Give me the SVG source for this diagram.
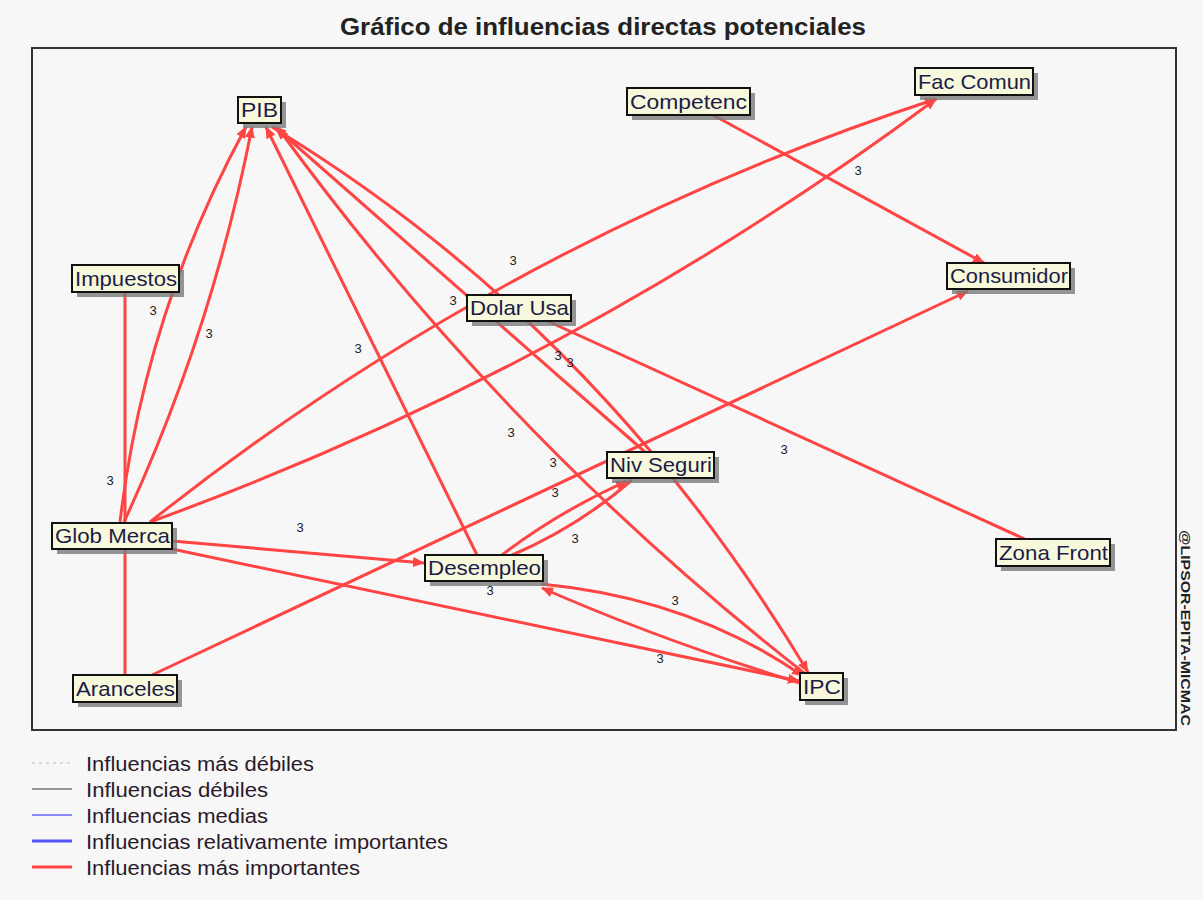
<svg xmlns="http://www.w3.org/2000/svg" width="1203" height="900" viewBox="0 0 1203 900">
  <defs>
    <marker id="arr" viewBox="0 0 12 10" refX="11" refY="5" markerWidth="12" markerHeight="10" markerUnits="userSpaceOnUse" orient="auto">
      <path d="M0,0 L12,5 L0,10 Z" fill="#ff4444"/>
    </marker>
    <style>
      .bg { fill: #f7f7f7; }
      .frame { fill: none; stroke: #333; stroke-width: 2; }
      .title { font-family: "Liberation Sans", Arial, sans-serif; font-size: 24px; font-weight: bold; fill: #222; }
      .edge { fill: none; stroke: #ff4444; stroke-width: 3; }
      .shadow { fill: #7a7a7a; opacity: 0.8; }
      .box { fill: #f8f8dc; stroke: #111; stroke-width: 2; }
      .lbl { font-family: "Liberation Sans", Arial, sans-serif; font-size: 21px; fill: #1c1c48; }
      .val { font-family: "Liberation Sans", Arial, sans-serif; font-size: 13px; fill: #222; }
      .leg { font-family: "Liberation Sans", Arial, sans-serif; font-size: 20px; fill: #2a1a2a; }
      .copy { font-family: "Liberation Sans", Arial, sans-serif; font-size: 13px; font-weight: bold; fill: #222; }
    </style>
  </defs>

  <rect class="bg" x="0" y="0" width="1203" height="900"/>
  <text class="title" x="603" y="35" text-anchor="middle" textLength="526" lengthAdjust="spacingAndGlyphs">Gráfico de influencias directas potenciales</text>
  <rect class="frame" x="32" y="48" width="1144" height="682"/>
  <text class="copy" transform="translate(1181,530) rotate(90)" textLength="196" lengthAdjust="spacingAndGlyphs">@LIPSOR-EPITA-MICMAC</text>

  <!-- influence connectors -->
  <g id="connectors">
    <path class="edge" d="M713,115 L984,263" marker-end="url(#arr)"/>
    <path class="edge" d="M152,675 L968,291" marker-end="url(#arr)"/>
    <path class="edge" d="M150,522 Q505,240 936,99" marker-end="url(#arr)"/>
    <path class="edge" d="M150,522 Q575,368 936,99" marker-end="url(#arr)"/>
    <path class="edge" d="M120,522 Q145,312 246,127" marker-end="url(#arr)"/>
    <path class="edge" d="M124,522 Q212,332 252,127" marker-end="url(#arr)"/>
    <path class="edge" d="M125,278 L125,688"/>
    <path class="edge" d="M477,555 L266,127" marker-end="url(#arr)"/>
    <path class="edge" d="M645,452 L275,127" marker-end="url(#arr)"/>
    <path class="edge" d="M272,127 Q600,326 808,672" marker-end="url(#arr)"/>
    <path class="edge" d="M808,676 Q505,440 278,128" marker-end="url(#arr)"/>
    <path class="edge" d="M519,308 L1053,552"/>
    <path class="edge" d="M172,541 L424,563" marker-end="url(#arr)"/>
    <path class="edge" d="M172,549 L799,681" marker-end="url(#arr)"/>
    <path class="edge" d="M541,584 Q690,598 803,676" marker-end="url(#arr)"/>
    <path class="edge" d="M803,684 Q660,640 542,588" marker-end="url(#arr)"/>
    <path class="edge" d="M502,555 Q558,512 627,481" marker-end="url(#arr)"/>
    <path class="edge" d="M632,480 Q578,527 510,556"/>
  </g>

  <!-- influence values -->
  <g id="values">
    <text class="val" x="513" y="265" text-anchor="middle">3</text>
    <text class="val" x="858" y="175" text-anchor="middle">3</text>
    <text class="val" x="153" y="315" text-anchor="middle">3</text>
    <text class="val" x="209" y="338" text-anchor="middle">3</text>
    <text class="val" x="453" y="305" text-anchor="middle">3</text>
    <text class="val" x="358" y="353" text-anchor="middle">3</text>
    <text class="val" x="558" y="360" text-anchor="middle">3</text>
    <text class="val" x="570" y="367" text-anchor="middle">3</text>
    <text class="val" x="511" y="437" text-anchor="middle">3</text>
    <text class="val" x="553" y="467" text-anchor="middle">3</text>
    <text class="val" x="555" y="497" text-anchor="middle">3</text>
    <text class="val" x="575" y="543" text-anchor="middle">3</text>
    <text class="val" x="784" y="454" text-anchor="middle">3</text>
    <text class="val" x="110" y="485" text-anchor="middle">3</text>
    <text class="val" x="300" y="532" text-anchor="middle">3</text>
    <text class="val" x="490" y="595" text-anchor="middle">3</text>
    <text class="val" x="675" y="605" text-anchor="middle">3</text>
    <text class="val" x="660" y="663" text-anchor="middle">3</text>
  </g>

  <!-- variables -->
  <g id="n-pib"><rect class="shadow" x="243" y="102" width="43" height="26"/><rect class="box" x="238" y="97" width="43" height="26"/><text class="lbl" x="241" y="117" textLength="37" lengthAdjust="spacingAndGlyphs">PIB</text></g>
  <g id="n-competenc"><rect class="shadow" x="632" y="93" width="123" height="27"/><rect class="box" x="627" y="88" width="123" height="27"/><text class="lbl" x="630" y="109" textLength="117" lengthAdjust="spacingAndGlyphs">Competenc</text></g>
  <g id="n-faccomun"><rect class="shadow" x="920" y="73" width="118" height="27"/><rect class="box" x="915" y="68" width="118" height="27"/><text class="lbl" x="918" y="89" textLength="113" lengthAdjust="spacingAndGlyphs">Fac Comun</text></g>
  <g id="n-consumidor"><rect class="shadow" x="952" y="268" width="123" height="26"/><rect class="box" x="947" y="263" width="123" height="26"/><text class="lbl" x="950" y="283" textLength="118" lengthAdjust="spacingAndGlyphs">Consumidor</text></g>
  <g id="n-impuestos"><rect class="shadow" x="77" y="270" width="107" height="27"/><rect class="box" x="72" y="265" width="107" height="27"/><text class="lbl" x="75" y="286" textLength="102" lengthAdjust="spacingAndGlyphs">Impuestos</text></g>
  <g id="n-dolarusa"><rect class="shadow" x="472" y="300" width="104" height="26"/><rect class="box" x="467" y="295" width="104" height="26"/><text class="lbl" x="470" y="315" textLength="99" lengthAdjust="spacingAndGlyphs">Dolar Usa</text></g>
  <g id="n-nivseguri"><rect class="shadow" x="612" y="457" width="107" height="26"/><rect class="box" x="607" y="452" width="107" height="26"/><text class="lbl" x="610" y="472" textLength="102" lengthAdjust="spacingAndGlyphs">Niv Seguri</text></g>
  <g id="n-globmerca"><rect class="shadow" x="57" y="528" width="120" height="26"/><rect class="box" x="52" y="523" width="120" height="26"/><text class="lbl" x="55" y="543" textLength="115" lengthAdjust="spacingAndGlyphs">Glob Merca</text></g>
  <g id="n-desempleo"><rect class="shadow" x="430" y="560" width="118" height="26"/><rect class="box" x="425" y="555" width="118" height="26"/><text class="lbl" x="428" y="575" textLength="113" lengthAdjust="spacingAndGlyphs">Desempleo</text></g>
  <g id="n-aranceles"><rect class="shadow" x="78" y="680" width="104" height="27"/><rect class="box" x="73" y="675" width="104" height="27"/><text class="lbl" x="76" y="696" textLength="99" lengthAdjust="spacingAndGlyphs">Aranceles</text></g>
  <g id="n-zonafront"><rect class="shadow" x="1001" y="544" width="114" height="27"/><rect class="box" x="996" y="539" width="114" height="27"/><text class="lbl" x="999" y="560" textLength="109" lengthAdjust="spacingAndGlyphs">Zona Front</text></g>
  <g id="n-ipc"><rect class="shadow" x="805" y="678" width="43" height="27"/><rect class="box" x="800" y="673" width="43" height="27"/><text class="lbl" x="803" y="694" textLength="38" lengthAdjust="spacingAndGlyphs">IPC</text></g>

  <!-- legend -->
  <g id="legend">
    <line x1="32" y1="763" x2="72" y2="763" stroke="#bbb" stroke-width="1" stroke-dasharray="3,4"/>
    <text class="leg" x="86" y="771" textLength="228" lengthAdjust="spacingAndGlyphs">Influencias más débiles</text>
    <line x1="32" y1="789" x2="72" y2="789" stroke="#777" stroke-width="1.5"/>
    <text class="leg" x="86" y="797" textLength="182" lengthAdjust="spacingAndGlyphs">Influencias débiles</text>
    <line x1="32" y1="815" x2="72" y2="815" stroke="#6666ff" stroke-width="1.5"/>
    <text class="leg" x="86" y="823" textLength="182" lengthAdjust="spacingAndGlyphs">Influencias medias</text>
    <line x1="32" y1="841" x2="72" y2="841" stroke="#5555ff" stroke-width="3"/>
    <text class="leg" x="86" y="849" textLength="362" lengthAdjust="spacingAndGlyphs">Influencias relativamente importantes</text>
    <line x1="32" y1="867" x2="72" y2="867" stroke="#ff4444" stroke-width="3"/>
    <text class="leg" x="86" y="875" textLength="274" lengthAdjust="spacingAndGlyphs">Influencias más importantes</text>
  </g>
</svg>
